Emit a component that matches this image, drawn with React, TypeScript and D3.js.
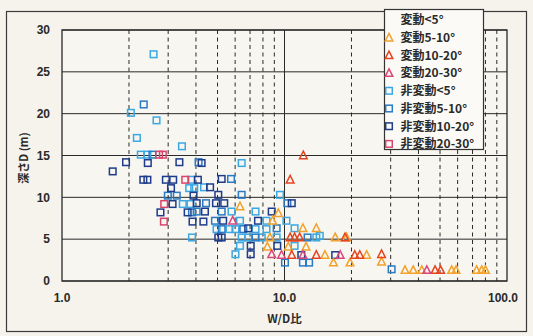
import React from "react";
import * as d3 from "d3";

// ---- data: [W/D ratio, depth D (m)] ----
const legendLabels = [
  "変動<5°",
  "変動5-10°",
  "変動10-20°",
  "変動20-30°",
  "非変動<5°",
  "非変動5-10°",
  "非変動10-20°",
  "非変動20-30°",
];

const yTicks = [0, 5, 10, 15, 20, 25, 30];
const xTickValues = [1, 10, 100];
const xTickLabels = ["1.0", "10.0", "100.0"];

const hendoLt5: [number, number][] = [];

const hendo5to10: [number, number][] = [
  [6.31, 8.9], [9.38, 8.1], [8.84, 7.2], [12.1, 6.3], [13.9, 6.3],
  [8.6, 5.2], [16.9, 5.2], [8.37, 4.1], [12.5, 4.1], [15.2, 3.1],
  [23.4, 3.1], [16.6, 2.2], [19.7, 2.2], [27.3, 2.3], [34.8, 1.3],
  [37.9, 1.3], [41.4, 1.3], [56.4, 1.3], [59.0, 1.3], [73.0, 1.3],
  [77.0, 1.3], [80.0, 1.3], [19.0, 5.2], [10.4, 4.1],
];

const hendo10to20: [number, number][] = [
  [12.15, 15.0], [10.6, 12.1], [10.6, 5.2], [11.1, 5.2], [11.7, 5.2],
  [18.7, 5.2], [10.78, 3.1], [13.9, 3.1], [20.7, 3.1], [21.8, 3.1],
  [27.3, 3.2], [47.5, 1.3], [50.3, 1.3],
];

const hendo20to30: [number, number][] = [
  [5.85, 7.2], [8.76, 3.2], [9.7, 3.1], [12.1, 3.1], [17.8, 3.1],
  [43.6, 1.3],
];

const hiLt5: [number, number][] = [
  [2.58, 27.1], [2.04, 20.1], [2.66, 19.2], [2.17, 17.1], [3.46, 16.1],
  [2.26, 15.1], [2.42, 15.1], [3.81, 12.1], [3.73, 11.1], [3.93, 11.1],
  [3.49, 9.2], [3.78, 9.2], [3.84, 5.2], [6.42, 14.1], [4.35, 11.2],
  [9.55, 10.3], [5.78, 8.3], [7.41, 8.3], [6.31, 7.2], [8.3, 7.2],
  [10.2, 7.2], [4.95, 6.2], [5.66, 6.2], [6.02, 6.2], [7.41, 6.2],
  [8.3, 6.2], [11.1, 6.3], [6.42, 5.2], [6.87, 5.2], [7.9, 5.2],
  [9.22, 5.2], [13.9, 5.2], [6.31, 4.2], [11.1, 4.2], [6.02, 3.2],
  [14.4, 5.4],
];

const hi5to10: [number, number][] = [
  [2.33, 21.1], [2.55, 15.1], [4.11, 14.2], [2.99, 10.2], [3.28, 10.2],
  [3.84, 8.2], [5.75, 12.2], [6.42, 10.3], [4.44, 9.3], [4.03, 8.3],
  [5.22, 8.3], [4.87, 7.2], [5.22, 6.2], [6.53, 6.2], [9.22, 6.3],
  [7.41, 5.2], [12.7, 5.2], [10.05, 2.2], [12.1, 2.2], [12.9, 2.2],
  [30.3, 1.4], [10.3, 9.3],
];

const hi10to20: [number, number][] = [
  [1.94, 14.2], [2.43, 14.1], [3.37, 14.2], [1.69, 13.1], [2.32, 12.1],
  [2.42, 12.1], [2.93, 12.1], [3.16, 12.1], [4.08, 12.1], [3.09, 11.1],
  [3.9, 10.2], [3.14, 9.2], [2.77, 8.2], [3.67, 8.2], [3.86, 7.1],
  [4.24, 14.1], [4.63, 11.2], [5.22, 12.2], [5.04, 10.3], [4.03, 9.3],
  [4.92, 9.3], [5.36, 9.3], [4.39, 8.3], [8.76, 8.3], [4.32, 7.1],
  [5.3, 7.2], [7.6, 7.2], [6.87, 6.3], [5.04, 5.2], [5.22, 5.2],
  [7.05, 4.2], [9.28, 4.2], [7.05, 3.2], [11.9, 3.1], [16.9, 3.1],
  [10.78, 9.3],
];

const hi20to30: [number, number][] = [
  [2.73, 15.1], [2.84, 15.1], [3.58, 12.1], [2.88, 9.2], [2.87, 7.1],
];

// ---- styles ----
const colors = [
  "#f2a12a", // 変動<5
  "#f2a12a", // 変動5-10
  "#e6431f", // 変動10-20
  "#dd4679", // 変動20-30
  "#3aa8e2", // 非変動<5
  "#2a7bc6", // 非変動5-10
  "#1e3c8b", // 非変動10-20
  "#d9446b", // 非変動20-30
];

const series = [
  { data: hendoLt5, shape: "tri", legendMarker: false },
  { data: hendo5to10, shape: "tri", legendMarker: true },
  { data: hendo10to20, shape: "tri", legendMarker: true },
  { data: hendo20to30, shape: "tri", legendMarker: true },
  { data: hiLt5, shape: "sq", legendMarker: true },
  { data: hi5to10, shape: "sq", legendMarker: true },
  { data: hi10to20, shape: "sq", legendMarker: true },
  { data: hi20to30, shape: "sq", legendMarker: true },
];

const W = 533;
const H = 336;
const plot = { left: 62, right: 507, top: 30, bottom: 281 };

const x = d3.scaleLog().domain([1, 100]).range([plot.left, plot.right]);
const y = d3.scaleLinear().domain([0, 30]).range([plot.bottom, plot.top]);

const latin = "'Liberation Sans', Arial, sans-serif";
const cjk = "'Noto Sans CJK JP', 'Noto Sans', sans-serif";
const ink = "#2a2a2a";

function Marker({ shape, cx, cy, color }: { shape: string; cx: number; cy: number; color: string }) {
  if (shape === "sq") {
    return (
      <rect x={cx - 3.3} y={cy - 3.3} width={6.6} height={6.6} fill="none" stroke={color} strokeWidth={1.5} />
    );
  }
  const tri = d3.line()([
    [cx, cy - 4.3],
    [cx + 3.8, cy + 3.2],
    [cx - 3.8, cy + 3.2],
  ]) + "Z";
  return <path d={tri} fill="none" stroke={color} strokeWidth={1.5} strokeLinejoin="miter" />;
}

export default function App() {
  // minor log positions for the dashed verticals
  const minors: number[] = [];
  [1, 10].forEach((d) => {
    for (let k = 2; k <= 9; k++) minors.push(k * d);
  });

  const drawOrder = [4, 5, 6, 7, 0, 1, 2, 3];
  const legendX = 384;
  const legendY = 9;
  const rowH = 17.7;

  return (
    <svg
      width={W}
      height={H}
      style={{ position: "absolute", left: 0, top: 0, background: "#f5f3ec" }}
    >
      {/* outer frame */}
      <rect x={6.5} y={11.5} width={520} height={320} fill="#f5f3ec" stroke="#3a3a3a" strokeWidth={1.2} />
      {/* plot background */}
      <rect x={plot.left} y={plot.top} width={plot.right - plot.left} height={plot.bottom - plot.top} fill="#f7f6f0" />

      {/* horizontal grid */}
      {yTicks.map((t) => (
        <line key={"h" + t} x1={plot.left} x2={plot.right} y1={y(t)} y2={y(t)} stroke={ink} strokeWidth={1} />
      ))}
      {/* vertical dashed grid */}
      {minors.map((m) => (
        <line
          key={"v" + m}
          x1={x(m)}
          x2={x(m)}
          y1={plot.top}
          y2={plot.bottom}
          stroke={ink}
          strokeWidth={1}
          strokeDasharray="4,3.5"
        />
      ))}
      {/* decade line and borders */}
      <line x1={x(10)} x2={x(10)} y1={plot.top} y2={plot.bottom} stroke={ink} strokeWidth={1} />
      <rect
        x={plot.left}
        y={plot.top}
        width={plot.right - plot.left}
        height={plot.bottom - plot.top}
        fill="none"
        stroke={ink}
        strokeWidth={1.3}
      />

      {/* points */}
      {drawOrder.map((si) =>
        series[si].data.map((p, i) => (
          <Marker key={si + "-" + i} shape={series[si].shape} cx={x(p[0])} cy={y(p[1])} color={colors[si]} />
        ))
      )}

      {/* y tick labels */}
      {yTicks.map((t) => (
        <text
          key={"yt" + t}
          x={50}
          y={y(t)}
          dy="0.36em"
          textAnchor="end"
          fontFamily={latin}
          fontWeight="bold"
          fontSize={12}
          fill={ink}
        >
          {t}
        </text>
      ))}
      {/* x tick labels */}
      {xTickValues.map((v, i) => (
        <text
          key={"xt" + v}
          x={x(v) - (i === 2 ? 4 : 0)}
          y={298}
          dy="0.36em"
          textAnchor="middle"
          fontFamily={latin}
          fontWeight="bold"
          fontSize={12}
          fill={ink}
        >
          {xTickLabels[i]}
        </text>
      ))}

      {/* axis titles */}
      <text
        x={x(10)}
        y={319}
        dy="0.36em"
        textAnchor="middle"
        fontFamily={cjk}
        fontWeight="bold"
        fontSize={11.5}
        fill={ink}
      >
        W/D比
      </text>
      <text
        transform={`translate(24,${158}) rotate(-90)`}
        textAnchor="middle"
        dy="0.36em"
        fontFamily={cjk}
        fontWeight="bold"
        fontSize={11}
        fill={ink}
      >
        深さD (m)
      </text>

      {/* legend */}
      <rect x={legendX + 0.5} y={legendY + 0.5} width={99} height={140} fill="#fbfaf6" stroke="#333" strokeWidth={1.2} />
      {legendLabels.map((lab, i) => {
        const cy = legendY + 11 + i * rowH;
        return (
          <g key={"lg" + i}>
            {series[i].legendMarker && (
              <Marker shape={series[i].shape} cx={legendX + 5} cy={cy} color={colors[i]} />
            )}
            <text
              x={legendX + 16.5}
              y={cy}
              dy="0.36em"
              fontFamily={cjk}
              fontWeight="bold"
              fontSize={12}
              fill={ink}
            >
              {lab}
            </text>
          </g>
        );
      })}
    </svg>
  );
}
